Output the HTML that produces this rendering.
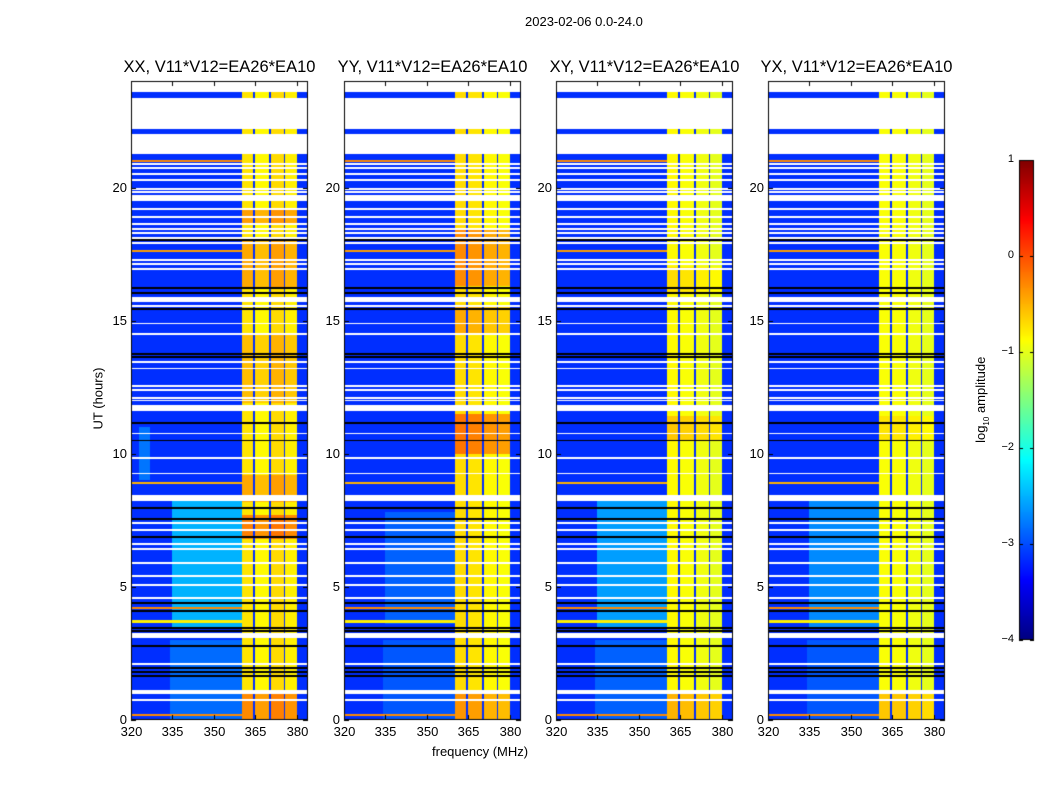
<!DOCTYPE html>
<html><head><meta charset="utf-8">
<style>
body{margin:0;background:#fff;font-family:"Liberation Sans",sans-serif;}
#wrap{position:relative;width:1050px;height:800px;overflow:hidden;background:#fff;}
.t{position:absolute;color:#000;white-space:nowrap;z-index:2;}
canvas{position:absolute;z-index:1;}
</style></head>
<body>
<div id="wrap">
<canvas id="cv" width="1050" height="800" style="left:0;top:0"></canvas>
<div class="t" style="left:525px;top:14px;font-size:13px;">2023-02-06 0.0-24.0</div>
<div class="t" style="left:432px;top:744px;font-size:13px;">frequency (MHz)</div>
<div class="t" style="left:58px;top:391px;font-size:13px;transform:rotate(-90deg);width:80px;text-align:center;">UT (hours)</div>
<div class="t" style="left:932px;top:391px;font-size:13px;transform:rotate(-90deg);width:100px;text-align:center;">log<sub style="font-size:8px">10</sub> amplitude</div>
<div id="labels"></div>
</div>
<script>
const panelTitles = ["XX, V11*V12=EA26*EA10","YY, V11*V12=EA26*EA10","XY, V11*V12=EA26*EA10","YX, V11*V12=EA26*EA10"];
const xTicks = [320,335,350,365,380];
const yTicks = [0,5,10,15,20];
const cbTicks = [1,0,-1,-2,-3,-4];
const backgroundLevel = [-3.15,-3.15,-3.15,-3.15];
// frequency bands [fStart, fEnd, level] per panel
const bandsXX = [[360,364.2,-0.75],[364.8,370,-0.85],[370.6,375.2,-0.7],[375.8,380,-0.8]];
const bandsYY = [[360,364.2,-0.7],[364.8,370,-0.75],[370.6,375.2,-0.85],[375.8,380,-0.9]];
const bandsXY = [[360,364.2,-0.85],[364.8,370,-0.9],[370.6,375.2,-0.95],[375.8,380,-1.0]];
const bandsYX = [[360,364.2,-0.9],[364.8,370,-0.9],[370.6,375.2,-0.95],[375.8,380,-1.0]];
// band boosts in time [hStart, hEnd, delta]
const boostXX = [[0,1,0.45],[6.8,7.7,0.5],[8.2,9.2,0.3],[16.2,18,0.3],[18.6,19.2,0.35],[11.9,14.5,0.2]];
const boostYY = [[0,1,0.35],[10,11.5,0.5],[16.3,18.4,0.4],[14.5,15.5,0.25]];
const boostXY = [[0,1,0.35],[10.5,11.4,0.25],[16,17,0.15]];
const boostYX = [[0,1,0.3],[10.5,11.4,0.15]];
// broadband blobs [fStart, fEnd, hStart, hEnd, level]
const blobsXX = [[335,362,3.5,8.3,-2.5],[334,360,0,3,-2.85],[323,327,9,11,-2.8]];
const blobsYY = [[335,362,3.6,7.8,-2.9],[334,360,0,3,-2.95]];
const blobsXY = [[335,362,3.5,8.3,-2.6],[334,360,0,3,-2.9]];
const blobsYX = [[335,362,3.5,8.3,-2.7],[334,360,0,3,-2.95]];
// flagged rows (hours)
const whiteThick = [[23.59,24],[22.2,23.36],[21.26,22.01],[19.5,19.7],[15.71,15.9],[11.6,11.8],[3.08,3.26],[0.97,1.13]];
const whiteLines = [20.89,20.74,20.51,20.29,19.95,19.84,19.2,18.9,18.64,18.45,18.3,18.11,17.92,17.29,17.14,16.95,15.56,14.89,14.51,13.43,13.2,12.56,12.38,12.11,12.0,11.81,10.76,9.83,9.26,8.4,8.33,8.25,7.39,7.13,6.6,6.41,5.89,5.4,5.06,4.58,2.1,0.75];
const blackLines = [23.14,21.64,18.04,16.24,16.05,15.45,13.76,13.65,11.17,10.5,7.95,7.54,6.86,4.39,4.09,3.45,3.34,2.78,1.95,1.8,1.65];
const hotLines = [[21.0,-0.3],[17.6,-0.4],[8.9,-0.5],[4.2,-0.3],[3.7,-0.8],[0.2,-0.3]];

const bands=[bandsXX,bandsYY,bandsXY,bandsYX], boosts=[boostXX,boostYY,boostXY,boostYX], blobs=[blobsXX,blobsYY,blobsXY,blobsYX];
const panelX=[131,344,556,768], PW=177, PT=81, PB=720, F0=320, F1=384, H0=0, H1=24;
function xs(i,f){return panelX[i]+(f-F0)/(F1-F0)*PW;}
function ys(h){return PB-(h-H0)/(H1-H0)*(PB-PT);}
function jet(t){t=Math.max(0,Math.min(1,t));const c=v=>Math.round(255*Math.max(0,Math.min(1,v)));
 return [c(1.5-Math.abs(4*t-3)),c(1.5-Math.abs(4*t-2)),c(1.5-Math.abs(4*t-1))];}
function lev2t(v){return (v+4)/5;}

const cv=document.getElementById('cv'),ctx=cv.getContext('2d');
const img=ctx.createImageData(1050,800);
function setpx(x,y,rgb){const k=(y*1050+x)*4;img.data[k]=rgb[0];img.data[k+1]=rgb[1];img.data[k+2]=rgb[2];img.data[k+3]=255;}
for(let i=0;i<4;i++){
 for(let py=PT;py<PB;py++){
  const h=H0+(PB-py-0.5)/(PB-PT)*(H1-H0);
  let white=whiteThick.some(r=>h>=r[0]&&h<=r[1])||whiteLines.some(w=>Math.abs(h-w)<0.035);
  let black=blackLines.some(b=>Math.abs(h-b)<0.035);
  let hot=null;hotLines.forEach(l=>{if(Math.abs(h-l[0])<0.04)hot=l[1];});
  let bst=0;boosts[i].forEach(b=>{if(h>=b[0]&&h<b[1])bst=Math.max(bst,b[2]);});
  for(let px=panelX[i];px<panelX[i]+PW;px++){
   if(white){setpx(px,py,[255,255,255]);continue;}
   if(black){setpx(px,py,[0,0,0]);continue;}
   const f=F0+(px-panelX[i]+0.5)/PW*(F1-F0);
   let v=backgroundLevel[i];
   blobs[i].forEach(b=>{if(f>=b[0]&&f<b[1]&&h>=b[2]&&h<b[3])v=b[4];});
   let inBand=false;
   bands[i].forEach(b=>{if(f>=b[0]&&f<b[1]){v=b[2]+bst;inBand=true;}});
   if(hot!==null&&!inBand&&f<360)v=hot;
   setpx(px,py,jet(lev2t(v)));
  }
 }
}
// colorbar
const CBX=1019,CBW=15,CBT=160,CBB=640;
for(let y=CBT;y<CBB;y++){const t=1-(y-CBT+0.5)/(CBB-CBT);const c=jet(t);for(let x=CBX;x<CBX+CBW;x++)setpx(x,y,c);}
ctx.putImageData(img,0,0);
ctx.strokeStyle='#000';ctx.lineWidth=1;
const L=document.getElementById('labels');
function label(txt,x,y,align,name,size){const d=document.createElement('div');d.className='t';d.textContent=txt;
 
 
 d.style.fontSize=(size||13)+'px';d.style.top=(y-8)+'px';
 if(align==='c'){d.style.left=(x-40)+'px';d.style.width='80px';d.style.textAlign='center';}
 else{d.style.left=(x-60)+'px';d.style.width='60px';d.style.textAlign='right';}
 L.appendChild(d);}
for(let i=0;i<4;i++){
 ctx.strokeRect(panelX[i]+0.5,PT+0.5,PW-1,PB-PT-1);
 xTicks.forEach(f=>{const x=Math.round(xs(i,f))+0.5;ctx.beginPath();ctx.moveTo(x,PB);ctx.lineTo(x,PB-5);ctx.moveTo(x,PT);ctx.lineTo(x,PT+5);ctx.stroke();
  label(String(f),x,PB+12,'c','x-tick-label');});
 yTicks.forEach(h=>{const y=Math.round(ys(h))+0.5;ctx.beginPath();ctx.moveTo(panelX[i],y);ctx.lineTo(panelX[i]+5,y);ctx.moveTo(panelX[i]+PW,y);ctx.lineTo(panelX[i]+PW-5,y);ctx.stroke();
  label(String(h),panelX[i]-4,y-1,'r','y-tick-label');});
 const d=document.createElement('div');d.className='t';d.textContent=panelTitles[i];
 
 
 d.style.fontSize='16.5px';d.style.left=(panelX[i]+PW/2-120)+'px';d.style.width='240px';d.style.textAlign='center';d.style.top='58px';
 L.appendChild(d);
}
ctx.strokeRect(CBX+0.5,CBT+0.5,CBW-1,CBB-CBT-1);
cbTicks.forEach(v=>{const y=Math.round(CBB-(v+4)/5*(CBB-CBT))+0.5;ctx.beginPath();ctx.moveTo(CBX,y);ctx.lineTo(CBX+4,y);ctx.moveTo(CBX+CBW,y);ctx.lineTo(CBX+CBW-4,y);ctx.stroke();
 label(v<0?'\u2212'+(-v):String(v),CBX-5,y,'r','colorbar-tick-label',11);});
</script>
</body></html>
